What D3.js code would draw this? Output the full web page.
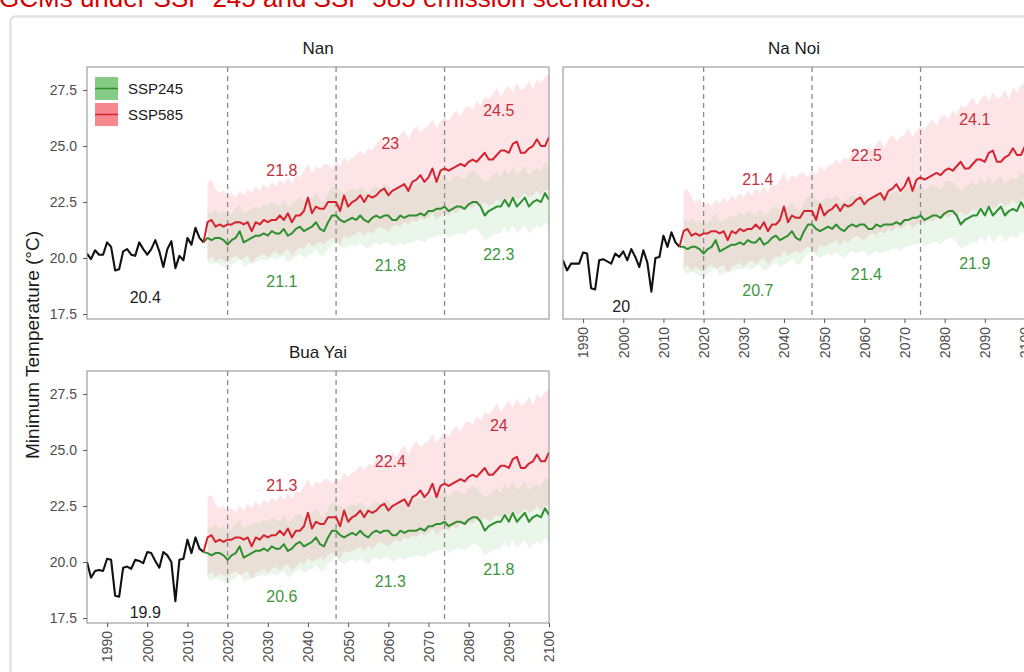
<!DOCTYPE html>
<html><head><meta charset="utf-8">
<script src="https://cdn.jsdelivr.net/npm/d3@7"></script>
<style>
html,body{margin:0;padding:0;background:#fff;overflow:hidden}
svg{display:block;font-family:"Liberation Sans",Arial,Helvetica,sans-serif}
</style></head><body>
<svg id="chart" width="1024" height="672"></svg>
<script>
// ---------- data ----------
const stations = ["Nan", "Na Noi", "Bua Yai"];
const scenarios = ["SSP245", "SSP585"];
const histYears = d3.range(1985, 2015);
const futYears = d3.range(2015, 2101);
const xTicks = [1990, 2000, 2010, 2020, 2030, 2040, 2050, 2060, 2070, 2080, 2090, 2100];
const yTicks = [17.5, 20.0, 22.5, 25.0, 27.5];
const periodBreaks = [2020, 2047, 2074];
const periodMid = [2033.5, 2060.5, 2087.5];
const histLabelYear = 1999.5;

const histNan = [20.2, 19.95, 20.35, 20.15, 20.15, 20.7, 20.5, 19.45, 19.5, 20.3, 20.4, 20.15, 20.1, 20.7, 20.4,
  20.15, 20.4, 20.8, 20.3, 19.6, 20.4, 20.75, 19.55, 20.1, 19.9, 20.9, 20.6, 21.35, 20.9, 20.7];
const histNaNoi = [19.9, 19.45, 19.75, 19.75, 19.75, 20.25, 20.2, 18.65, 18.6, 19.9, 19.95, 19.85, 19.75, 20.2, 20.05,
  20.3, 19.9, 20.4, 20.05, 19.6, 20.35, 19.8, 18.5, 20.0, 20.05, 21.0, 20.5, 21.15, 20.7, 20.5];
const histBuaYai = [20.0, 19.3, 19.6, 19.65, 19.6, 20.15, 20.1, 18.5, 18.45, 19.75, 19.8, 19.7, 20.1, 20.05, 19.95,
  20.45, 20.4, 20.05, 19.75, 20.45, 20.3, 20.0, 18.25, 20.1, 20.15, 21.0, 20.4, 21.1, 20.6, 20.45];

// SSP245 median 2015-2100
const ssp245Nan = [
  20.9, 20.8, 20.9, 20.9, 20.8, 20.6, 20.8, 20.9, 21.2, 20.7, 20.8, 20.9, 21.0, 21.0, 21.1,
  21.0, 21.2, 21.1, 21.1, 21.3, 21.0, 21.1, 21.3, 21.4, 21.2, 21.3, 21.4, 21.6, 21.3, 21.2,
  21.6, 21.9, 21.9, 21.7, 21.6, 21.7, 21.8, 21.7, 21.9, 21.7, 21.6, 21.8, 21.9, 21.8, 21.9,
  21.9, 21.7, 21.7, 21.9, 21.8, 21.9, 21.9, 21.9, 22.0, 21.9, 22.1, 22.1, 22.2, 22.2, 22.3,
  22.1, 22.2, 22.3, 22.3, 22.2, 22.4, 22.5, 22.5, 22.3, 21.9, 22.1, 22.2, 22.3, 22.3, 22.6,
  22.3, 22.7, 22.3, 22.5, 22.7, 22.3, 22.5, 22.6, 22.5, 22.9, 22.6];
const ssp245NaNoi = [
  20.5, 20.4, 20.5, 20.5, 20.4, 20.2, 20.4, 20.5, 20.8, 20.3, 20.4, 20.5, 20.6, 20.6, 20.7,
  20.6, 20.8, 20.7, 20.7, 20.9, 20.6, 20.7, 20.9, 21.0, 20.8, 20.9, 21.0, 21.2, 20.9, 20.8,
  21.2, 21.5, 21.5, 21.3, 21.2, 21.3, 21.4, 21.3, 21.5, 21.3, 21.2, 21.4, 21.5, 21.4, 21.5,
  21.5, 21.3, 21.3, 21.5, 21.4, 21.5, 21.5, 21.5, 21.6, 21.5, 21.7, 21.7, 21.8, 21.8, 21.9,
  21.7, 21.8, 21.9, 21.9, 21.8, 22.0, 22.1, 22.1, 21.9, 21.5, 21.7, 21.8, 21.9, 21.9, 22.2,
  21.9, 22.3, 21.9, 22.1, 22.3, 21.9, 22.1, 22.2, 22.1, 22.5, 22.2];
const ssp245BuaYai = [
  20.4, 20.3, 20.4, 20.4, 20.3, 20.1, 20.3, 20.4, 20.7, 20.2, 20.3, 20.4, 20.5, 20.5, 20.6,
  20.5, 20.7, 20.6, 20.6, 20.8, 20.5, 20.6, 20.8, 20.9, 20.7, 20.8, 20.9, 21.1, 20.8, 20.7,
  21.1, 21.4, 21.4, 21.2, 21.1, 21.2, 21.3, 21.2, 21.4, 21.2, 21.1, 21.3, 21.4, 21.3, 21.4,
  21.4, 21.2, 21.2, 21.4, 21.3, 21.4, 21.4, 21.4, 21.5, 21.4, 21.6, 21.6, 21.7, 21.7, 21.8,
  21.6, 21.7, 21.8, 21.8, 21.7, 21.9, 22.0, 22.0, 21.8, 21.4, 21.6, 21.7, 21.8, 21.8, 22.1,
  21.8, 22.2, 21.8, 22.0, 22.2, 21.8, 22.0, 22.1, 22.0, 22.4, 22.1];

// SSP585 median 2015-2100
const ssp585Nan = [
  21.6, 21.7, 21.4, 21.5, 21.4, 21.5, 21.5, 21.6, 21.6, 21.5, 21.6, 21.2, 21.6, 21.5, 21.7,
  21.6, 21.7, 21.7, 21.9, 21.7, 22.0, 21.6, 21.9, 21.9, 22.1, 22.7, 22.0, 22.3, 22.2, 22.2,
  22.5, 22.5, 22.5, 22.1, 22.8, 22.3, 22.5, 22.6, 22.8, 22.5, 22.8, 22.7, 22.8, 23.0, 23.1,
  22.8, 23.0, 23.1, 23.2, 23.3, 23.0, 23.4, 23.5, 23.7, 23.4, 23.6, 24.0, 23.4, 23.9, 24.0,
  23.9, 24.0, 24.1, 24.2, 24.1, 24.3, 24.4, 24.3, 24.5, 24.7, 24.4, 24.4, 24.6, 24.8, 24.8,
  24.7, 25.1, 25.2, 24.7, 24.7, 24.9, 25.0, 25.3, 25.0, 25.0, 25.4];
const ssp585NaNoi = [
  21.2, 21.3, 21.0, 21.1, 21.0, 21.1, 21.1, 21.2, 21.2, 21.1, 21.2, 20.8, 21.2, 21.1, 21.3,
  21.2, 21.3, 21.3, 21.5, 21.3, 21.6, 21.2, 21.5, 21.5, 21.7, 22.3, 21.6, 21.9, 21.8, 21.8,
  22.1, 22.1, 22.1, 21.7, 22.4, 21.9, 22.1, 22.2, 22.4, 22.1, 22.4, 22.3, 22.4, 22.6, 22.7,
  22.4, 22.6, 22.7, 22.8, 22.9, 22.6, 23.0, 23.1, 23.3, 23.0, 23.2, 23.6, 23.0, 23.5, 23.6,
  23.5, 23.6, 23.7, 23.8, 23.7, 23.9, 24.0, 23.9, 24.1, 24.3, 24.0, 24.0, 24.2, 24.4, 24.4,
  24.3, 24.7, 24.8, 24.3, 24.3, 24.5, 24.6, 24.9, 24.6, 24.6, 25.0];
const ssp585BuaYai = [
  21.1, 21.2, 20.9, 21.0, 20.9, 21.0, 21.0, 21.1, 21.1, 21.0, 21.1, 20.7, 21.1, 21.0, 21.2,
  21.1, 21.2, 21.2, 21.4, 21.2, 21.5, 21.1, 21.4, 21.4, 21.6, 22.2, 21.5, 21.8, 21.7, 21.7,
  22.0, 22.0, 22.0, 21.6, 22.3, 21.8, 22.0, 22.1, 22.3, 22.0, 22.3, 22.2, 22.3, 22.5, 22.6,
  22.3, 22.5, 22.6, 22.7, 22.8, 22.5, 22.9, 23.0, 23.2, 22.9, 23.1, 23.5, 22.9, 23.4, 23.5,
  23.4, 23.5, 23.6, 23.7, 23.6, 23.8, 23.9, 23.8, 24.0, 24.2, 23.9, 23.9, 24.1, 24.3, 24.3,
  24.2, 24.6, 24.7, 24.2, 24.2, 24.4, 24.5, 24.8, 24.5, 24.5, 24.9];

// SSP245 ensemble range (lower / upper)
const ssp245LoNan = [
  19.8, 19.7, 19.8, 19.7, 19.6, 19.5, 19.7, 19.8, 20.0, 19.6, 19.7, 19.8, 19.8, 19.9, 19.9,
  19.9, 20.0, 19.9, 20.0, 20.1, 19.8, 19.9, 20.1, 20.2, 20.0, 20.1, 20.2, 20.4, 20.1, 20.1,
  20.4, 20.6, 20.7, 20.5, 20.4, 20.5, 20.6, 20.5, 20.7, 20.5, 20.4, 20.6, 20.7, 20.6, 20.7,
  20.7, 20.5, 20.6, 20.7, 20.6, 20.7, 20.7, 20.8, 20.8, 20.7, 20.9, 20.9, 21.0, 21.0, 21.1,
  20.9, 21.0, 21.1, 21.1, 21.0, 21.2, 21.3, 21.3, 21.1, 20.8, 20.9, 21.0, 21.1, 21.1, 21.4,
  21.1, 21.5, 21.1, 21.3, 21.5, 21.1, 21.3, 21.4, 21.3, 21.6, 21.4];
const ssp245HiNan = [
  22.1, 22.0, 22.2, 22.0, 22.1, 21.9, 22.0, 22.2, 22.4, 22.0, 22.1, 22.2, 22.3, 22.2, 22.4,
  22.3, 22.5, 22.4, 22.3, 22.6, 22.3, 22.4, 22.6, 22.7, 22.5, 22.6, 22.7, 22.9, 22.6, 22.5,
  22.9, 23.2, 23.1, 23.0, 22.9, 23.0, 23.1, 23.0, 23.2, 23.0, 22.9, 23.1, 23.2, 23.1, 23.3,
  23.2, 23.0, 23.1, 23.3, 23.1, 23.3, 23.2, 23.3, 23.4, 23.2, 23.5, 23.4, 23.6, 23.5, 23.7,
  23.4, 23.6, 23.7, 23.6, 23.5, 23.8, 23.9, 23.8, 23.6, 23.4, 23.5, 23.7, 23.8, 23.6, 24.0,
  23.7, 24.1, 23.7, 23.9, 24.1, 23.7, 23.9, 24.0, 23.9, 24.3, 24.0];
const ssp245LoNaNoi = [
  19.4, 19.3, 19.4, 19.3, 19.2, 19.1, 19.3, 19.4, 19.6, 19.2, 19.3, 19.4, 19.4, 19.5, 19.5,
  19.5, 19.6, 19.5, 19.6, 19.7, 19.4, 19.5, 19.7, 19.8, 19.6, 19.7, 19.8, 20.0, 19.7, 19.7,
  20.0, 20.2, 20.3, 20.1, 20.0, 20.1, 20.2, 20.1, 20.3, 20.1, 20.0, 20.2, 20.3, 20.2, 20.3,
  20.3, 20.1, 20.2, 20.3, 20.2, 20.3, 20.3, 20.4, 20.4, 20.3, 20.5, 20.5, 20.6, 20.6, 20.7,
  20.5, 20.6, 20.7, 20.7, 20.6, 20.8, 20.9, 20.9, 20.7, 20.4, 20.5, 20.6, 20.7, 20.7, 21.0,
  20.7, 21.1, 20.7, 20.9, 21.1, 20.7, 20.9, 21.0, 20.9, 21.2, 21.0];
const ssp245HiNaNoi = [
  21.7, 21.6, 21.8, 21.6, 21.7, 21.5, 21.6, 21.8, 22.0, 21.6, 21.7, 21.8, 21.9, 21.8, 22.0,
  21.9, 22.1, 22.0, 21.9, 22.2, 21.9, 22.0, 22.2, 22.3, 22.1, 22.2, 22.3, 22.5, 22.2, 22.1,
  22.5, 22.8, 22.7, 22.6, 22.5, 22.6, 22.7, 22.6, 22.8, 22.6, 22.5, 22.7, 22.8, 22.7, 22.9,
  22.8, 22.6, 22.7, 22.9, 22.7, 22.9, 22.8, 22.9, 23.0, 22.8, 23.1, 23.0, 23.2, 23.1, 23.3,
  23.0, 23.2, 23.3, 23.2, 23.1, 23.4, 23.5, 23.4, 23.2, 23.0, 23.1, 23.3, 23.4, 23.2, 23.6,
  23.3, 23.7, 23.3, 23.5, 23.7, 23.3, 23.5, 23.6, 23.5, 23.9, 23.6];
const ssp245LoBuaYai = [
  19.3, 19.2, 19.3, 19.2, 19.1, 19.0, 19.2, 19.3, 19.5, 19.1, 19.2, 19.3, 19.3, 19.4, 19.4,
  19.4, 19.5, 19.4, 19.5, 19.6, 19.3, 19.4, 19.6, 19.7, 19.5, 19.6, 19.7, 19.9, 19.6, 19.6,
  19.9, 20.1, 20.2, 20.0, 19.9, 20.0, 20.1, 20.0, 20.2, 20.0, 19.9, 20.1, 20.2, 20.1, 20.2,
  20.2, 20.0, 20.1, 20.2, 20.1, 20.2, 20.2, 20.3, 20.3, 20.2, 20.4, 20.4, 20.5, 20.5, 20.6,
  20.4, 20.5, 20.6, 20.6, 20.5, 20.7, 20.8, 20.8, 20.6, 20.3, 20.4, 20.5, 20.6, 20.6, 20.9,
  20.6, 21.0, 20.6, 20.8, 21.0, 20.6, 20.8, 20.9, 20.8, 21.1, 20.9];
const ssp245HiBuaYai = [
  21.6, 21.5, 21.7, 21.5, 21.6, 21.4, 21.5, 21.7, 21.9, 21.5, 21.6, 21.7, 21.8, 21.7, 21.9,
  21.8, 22.0, 21.9, 21.8, 22.1, 21.8, 21.9, 22.1, 22.2, 22.0, 22.1, 22.2, 22.4, 22.1, 22.0,
  22.4, 22.7, 22.6, 22.5, 22.4, 22.5, 22.6, 22.5, 22.7, 22.5, 22.4, 22.6, 22.7, 22.6, 22.8,
  22.7, 22.5, 22.6, 22.8, 22.6, 22.8, 22.7, 22.8, 22.9, 22.7, 23.0, 22.9, 23.1, 23.0, 23.2,
  22.9, 23.1, 23.2, 23.1, 23.0, 23.3, 23.4, 23.3, 23.1, 22.9, 23.0, 23.2, 23.3, 23.1, 23.5,
  23.2, 23.6, 23.2, 23.4, 23.6, 23.2, 23.4, 23.5, 23.4, 23.8, 23.5];

// SSP585 ensemble range (lower / upper)
const ssp585LoNan = [
  19.9, 20.1, 19.8, 20.0, 19.9, 19.8, 20.0, 20.1, 19.9, 20.0, 20.1, 19.7, 20.0, 20.1, 20.2,
  20.0, 20.2, 20.3, 20.1, 20.3, 20.4, 20.1, 20.3, 20.5, 20.4, 20.7, 20.5, 20.6, 20.7, 20.6,
  20.8, 20.9, 20.8, 20.6, 21.0, 20.9, 21.0, 21.1, 21.2, 21.0, 21.2, 21.1, 21.3, 21.4, 21.3,
  21.2, 21.4, 21.5, 21.4, 21.6, 21.5, 21.7, 21.6, 21.8, 21.7, 21.8, 22.0, 21.7, 21.9, 22.0,
  21.9, 22.1, 22.0, 22.2, 22.1, 22.3, 22.2, 22.4, 22.3, 22.5, 22.3, 22.4, 22.6, 22.5, 22.7,
  22.5, 22.8, 22.6, 22.7, 22.9, 22.7, 22.8, 23.0, 22.8, 23.0, 23.1];
const ssp585HiNan = [
  23.4, 23.5, 23.1, 22.9, 23.0, 22.8, 22.9, 22.7, 23.0, 22.8, 23.1, 22.9, 23.2, 23.0, 23.3,
  23.1, 23.4, 23.2, 23.5, 23.3, 23.6, 23.3, 23.7, 23.6, 23.9, 24.2, 23.8, 24.1, 24.0, 24.2,
  24.2, 24.0, 24.3, 24.1, 24.5, 24.3, 24.5, 24.6, 24.8, 24.6, 24.9, 24.8, 25.1, 25.3, 25.1,
  25.0, 25.4, 25.2, 25.5, 25.7, 25.3, 25.7, 25.9, 25.6, 25.8, 25.9, 26.2, 25.8, 26.1, 26.3,
  26.1, 26.4, 26.6, 26.3, 26.7, 26.8, 26.6, 27.0, 26.8, 27.2, 27.1, 27.3, 27.6, 27.2, 27.5,
  27.7, 27.4, 27.8, 27.5, 27.6, 27.9, 27.5, 28.0, 27.8, 28.1, 28.2];
const ssp585LoNaNoi = [
  19.5, 19.7, 19.4, 19.6, 19.5, 19.4, 19.6, 19.7, 19.5, 19.6, 19.7, 19.3, 19.6, 19.7, 19.8,
  19.6, 19.8, 19.9, 19.7, 19.9, 20.0, 19.7, 19.9, 20.1, 20.0, 20.3, 20.1, 20.2, 20.3, 20.2,
  20.4, 20.5, 20.4, 20.2, 20.6, 20.5, 20.6, 20.7, 20.8, 20.6, 20.8, 20.7, 20.9, 21.0, 20.9,
  20.8, 21.0, 21.1, 21.0, 21.2, 21.1, 21.3, 21.2, 21.4, 21.3, 21.4, 21.6, 21.3, 21.5, 21.6,
  21.5, 21.7, 21.6, 21.8, 21.7, 21.9, 21.8, 22.0, 21.9, 22.1, 21.9, 22.0, 22.2, 22.1, 22.3,
  22.1, 22.4, 22.2, 22.3, 22.5, 22.3, 22.4, 22.6, 22.4, 22.6, 22.7];
const ssp585HiNaNoi = [
  23.0, 23.1, 22.7, 22.5, 22.6, 22.4, 22.5, 22.3, 22.6, 22.4, 22.7, 22.5, 22.8, 22.6, 22.9,
  22.7, 23.0, 22.8, 23.1, 22.9, 23.2, 22.9, 23.3, 23.2, 23.5, 23.8, 23.4, 23.7, 23.6, 23.8,
  23.8, 23.6, 23.9, 23.7, 24.1, 23.9, 24.1, 24.2, 24.4, 24.2, 24.5, 24.4, 24.7, 24.9, 24.7,
  24.6, 25.0, 24.8, 25.1, 25.3, 24.9, 25.3, 25.5, 25.2, 25.4, 25.5, 25.8, 25.4, 25.7, 25.9,
  25.7, 26.0, 26.2, 25.9, 26.3, 26.4, 26.2, 26.6, 26.4, 26.8, 26.7, 26.9, 27.2, 26.8, 27.1,
  27.3, 27.0, 27.4, 27.1, 27.2, 27.5, 27.1, 27.6, 27.4, 27.7, 27.8];
const ssp585LoBuaYai = [
  19.4, 19.6, 19.3, 19.5, 19.4, 19.3, 19.5, 19.6, 19.4, 19.5, 19.6, 19.2, 19.5, 19.6, 19.7,
  19.5, 19.7, 19.8, 19.6, 19.8, 19.9, 19.6, 19.8, 20.0, 19.9, 20.2, 20.0, 20.1, 20.2, 20.1,
  20.3, 20.4, 20.3, 20.1, 20.5, 20.4, 20.5, 20.6, 20.7, 20.5, 20.7, 20.6, 20.8, 20.9, 20.8,
  20.7, 20.9, 21.0, 20.9, 21.1, 21.0, 21.2, 21.1, 21.3, 21.2, 21.3, 21.5, 21.2, 21.4, 21.5,
  21.4, 21.6, 21.5, 21.7, 21.6, 21.8, 21.7, 21.9, 21.8, 22.0, 21.8, 21.9, 22.1, 22.0, 22.2,
  22.0, 22.3, 22.1, 22.2, 22.4, 22.2, 22.3, 22.5, 22.3, 22.5, 22.6];
const ssp585HiBuaYai = [
  22.9, 23.0, 22.6, 22.4, 22.5, 22.3, 22.4, 22.2, 22.5, 22.3, 22.6, 22.4, 22.7, 22.5, 22.8,
  22.6, 22.9, 22.7, 23.0, 22.8, 23.1, 22.8, 23.2, 23.1, 23.4, 23.7, 23.3, 23.6, 23.5, 23.7,
  23.7, 23.5, 23.8, 23.6, 24.0, 23.8, 24.0, 24.1, 24.3, 24.1, 24.4, 24.3, 24.6, 24.8, 24.6,
  24.5, 24.9, 24.7, 25.0, 25.2, 24.8, 25.2, 25.4, 25.1, 25.3, 25.4, 25.7, 25.3, 25.6, 25.8,
  25.6, 25.9, 26.1, 25.8, 26.2, 26.3, 26.1, 26.5, 26.3, 26.7, 26.6, 26.8, 27.1, 26.7, 27.0,
  27.2, 26.9, 27.3, 27.0, 27.1, 27.4, 27.0, 27.5, 27.3, 27.6, 27.7];

// period means shown as labels
const histMeanLabels = [20.4, 20, 19.9];
const ssp245PeriodNan = [21.1, 21.8, 22.3];
const ssp585PeriodNan = [21.8, 23, 24.5];
const ssp245PeriodNaNoi = [20.7, 21.4, 21.9];
const ssp585PeriodNaNoi = [21.4, 22.5, 24.1];
const ssp245PeriodBuaYai = [20.6, 21.3, 21.8];
const ssp585PeriodBuaYai = [21.3, 22.4, 24];

// ---------- tables built from the arrays ----------
const table = {
  "Nan": {hist: histNan, m245: ssp245Nan, m585: ssp585Nan, lo245: ssp245LoNan, hi245: ssp245HiNan,
          lo585: ssp585LoNan, hi585: ssp585HiNan, p245: ssp245PeriodNan, p585: ssp585PeriodNan, hm: histMeanLabels[0]},
  "Na Noi": {hist: histNaNoi, m245: ssp245NaNoi, m585: ssp585NaNoi, lo245: ssp245LoNaNoi, hi245: ssp245HiNaNoi,
          lo585: ssp585LoNaNoi, hi585: ssp585HiNaNoi, p245: ssp245PeriodNaNoi, p585: ssp585PeriodNaNoi, hm: histMeanLabels[1]},
  "Bua Yai": {hist: histBuaYai, m245: ssp245BuaYai, m585: ssp585BuaYai, lo245: ssp245LoBuaYai, hi245: ssp245HiBuaYai,
          lo585: ssp585LoBuaYai, hi585: ssp585HiBuaYai, p245: ssp245PeriodBuaYai, p585: ssp585PeriodBuaYai, hm: histMeanLabels[2]}
};

// ---------- layout & style ----------
const PW = 462, PH = 252;
const layout = {
  "Nan": {x: 87, y: 67, showX: false, showY: true, legend: true},
  "Na Noi": {x: 563, y: 67, showX: true, showY: false, legend: false},
  "Bua Yai": {x: 87, y: 371, showX: true, showY: true, legend: false}
};
const col = {
  line245: "#2f8f2f", line585: "#d7232f", fill245: "#5cb85c", fill585: "#f4606a",
  lab245: "#3d963d", lab585: "#c4313d", hist: "#111111"
};

const svg = d3.select("#chart");
svg.append("rect").attr("width", 1024).attr("height", 672).attr("fill", "#fff");

// caption (partially visible at top)
svg.append("text").attr("x", -1).attr("y", 7).attr("font-size", 26).attr("fill", "#d50000")
  .text("GCMs under SSP 245 and SSP 585 emission scenarios.");

// card frame
svg.append("rect").attr("x", 10.5).attr("y", 16.5).attr("width", 1040).attr("height", 700)
  .attr("rx", 5).attr("fill", "none").attr("stroke", "#e3e3e3").attr("stroke-width", 2.5);

const x = d3.scaleLinear().domain([1985, 2100]).range([0, PW]);
const y = d3.scaleLinear().domain([17.28, 28.53]).range([PH, 0]);

const lineGen = d3.line().x(d => x(d[0])).y(d => y(d[1]));
const areaGen = d3.area().x(d => x(d[0])).y0(d => y(d[1])).y1(d => y(d[2]));

stations.forEach((st, si) => {
  const L = layout[st], D = table[st];
  const g = svg.append("g").attr("transform", `translate(${L.x},${L.y})`);
  const cid = "clip" + si;
  g.append("clipPath").attr("id", cid).append("rect").attr("width", PW).attr("height", PH);
  const inner = g.append("g").attr("clip-path", `url(#${cid})`);

  const rib585 = futYears.map((yr, i) => [yr, D.lo585[i], D.hi585[i]]);
  const rib245 = futYears.map((yr, i) => [yr, D.lo245[i], D.hi245[i]]);
  inner.append("path").attr("d", areaGen(rib585)).attr("fill", col.fill585).attr("fill-opacity", 0.16);
  inner.append("path").attr("d", areaGen(rib245)).attr("fill", col.fill245).attr("fill-opacity", 0.12);

  // period dividers
  inner.selectAll("line.div").data(periodBreaks).join("line")
    .attr("x1", d => x(d)).attr("x2", d => x(d)).attr("y1", 0).attr("y2", PH)
    .attr("stroke", "#8a8a8a").attr("stroke-width", 1.3).attr("stroke-dasharray", "5,4");

  const histPts = histYears.map((yr, i) => [yr, D.hist[i]]);
  const last = histPts[histPts.length - 1];
  const p245 = [last].concat(futYears.map((yr, i) => [yr, D.m245[i]]));
  const p585 = [last].concat(futYears.map((yr, i) => [yr, D.m585[i]]));
  inner.append("path").attr("d", lineGen(histPts)).attr("fill", "none").attr("stroke", col.hist).attr("stroke-width", 2.1).attr("stroke-linejoin", "round");
  inner.append("path").attr("d", lineGen(p245)).attr("fill", "none").attr("stroke", col.line245).attr("stroke-width", 2).attr("stroke-linejoin", "round");
  inner.append("path").attr("d", lineGen(p585)).attr("fill", "none").attr("stroke", col.line585).attr("stroke-width", 2).attr("stroke-linejoin", "round");

  // labels
  const labG = inner.append("g").attr("font-size", 16).attr("text-anchor", "middle").attr("dominant-baseline", "central");
  labG.selectAll("text.l585").data(D.p585).join("text")
    .attr("x", (d, i) => x(periodMid[i])).attr("y", d => y(d + 2.1)).attr("fill", col.lab585).text(d => d);
  labG.selectAll("text.l245").data(D.p245).join("text")
    .attr("x", (d, i) => x(periodMid[i])).attr("y", d => y(d - 2.15)).attr("fill", col.lab245).text(d => d);
  labG.append("text").attr("x", x(histLabelYear)).attr("y", y(D.hm - 2.15)).attr("fill", "#222").text(D.hm);

  // border
  g.append("rect").attr("width", PW).attr("height", PH).attr("fill", "none").attr("stroke", "#8c8c8c").attr("stroke-width", 1);

  // title
  g.append("text").attr("x", PW / 2).attr("y", -19).attr("text-anchor", "middle").attr("dominant-baseline", "central")
    .attr("font-size", 17).attr("fill", "#1a1a1a").text(st);

  if (L.showY) {
    const ya = g.append("g").call(d3.axisLeft(y).tickValues(yTicks).tickSize(4).tickPadding(6).tickFormat(d3.format(".1f")));
    ya.select(".domain").remove();
    ya.selectAll("line").attr("stroke", "#555");
    ya.selectAll("text").attr("font-size", 14).attr("fill", "#4d4d4d").attr("font-family", null);
  }
  if (L.showX) {
    const xa = g.append("g").attr("transform", `translate(0,${PH})`)
      .call(d3.axisBottom(x).tickValues(xTicks).tickSize(4).tickFormat(d3.format("d")));
    xa.select(".domain").remove();
    xa.selectAll("line").attr("stroke", "#555");
    xa.selectAll("text").attr("font-size", 14).attr("fill", "#4d4d4d").attr("font-family", null)
      .attr("transform", "rotate(-90)").attr("text-anchor", "end").attr("x", -8).attr("y", 0).attr("dy", "0.35em");
  }

  if (L.legend) {
    const lg = g.append("g").attr("transform", "translate(8,10)");
    scenarios.forEach((s, i) => {
      const row = lg.append("g").attr("transform", `translate(0,${i * 26})`);
      const fc = i === 0 ? col.fill245 : col.fill585;
      const lc = i === 0 ? col.line245 : col.line585;
      row.append("rect").attr("width", 23).attr("height", 23).attr("fill", fc).attr("fill-opacity", 0.75);
      row.append("line").attr("x1", 0).attr("x2", 23).attr("y1", 11.5).attr("y2", 11.5).attr("stroke", lc).attr("stroke-width", 1.5);
      row.append("text").attr("x", 33).attr("y", 11.5).attr("dominant-baseline", "central").attr("font-size", 15).attr("fill", "#1a1a1a").text(s);
    });
  }
});

// shared y-axis title
svg.append("text").attr("transform", "translate(32,345) rotate(-90)").attr("text-anchor", "middle")
  .attr("dominant-baseline", "central").attr("font-size", 19).attr("fill", "#1a1a1a").text("Minimum Temperature (°C)");
</script>
</body></html>
